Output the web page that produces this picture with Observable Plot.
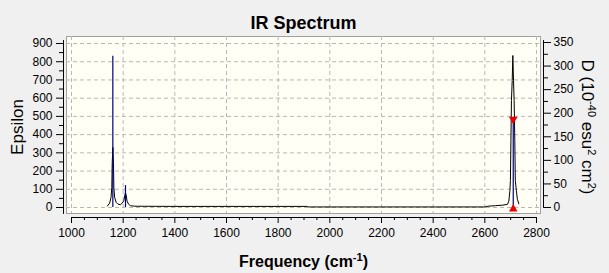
<!DOCTYPE html>
<html>
<head>
<meta charset="utf-8">
<script src="https://cdn.jsdelivr.net/npm/d3@7"></script>
<script src="https://cdn.jsdelivr.net/npm/@observablehq/plot@0.6"></script>
<style>
  html, body { margin: 0; padding: 0; background: #f0f0f0; }
  #chart { width: 609px; height: 273px; }
</style>
</head>
<body>
<div id="chart"></div>
<script>
// ---- data ----
const title = "IR Spectrum";
const xLabel = ["Frequency (cm", "-1", ")"];
const yLabel = "Epsilon";
const y2Label = ["D (10", "-40", " esu", "2", " cm", "2", ")"];

const xMajor = [1000, 1200, 1400, 1600, 1800, 2000, 2200, 2400, 2600, 2800];
const xMinor = d3.range(1050, 2800, 50).filter(v => v % 200 !== 0);
const epsTicks = [0, 100, 200, 300, 400, 500, 600, 700, 800, 900];
const epsMinor = [50, 150, 250, 350, 450, 550, 650, 750, 850];
const dTicks = [0, 50, 100, 150, 200, 250, 300, 350];
const dMinor = [25, 75, 125, 175, 225, 275, 325];
const D_TO_EPS = 2.587; // right axis (D) to left axis (Epsilon)

// broadened spectrum [frequency, epsilon]
const spectrum = [
  [1139, 8], [1148, 25], [1153, 55], [1156, 110], [1157.5, 240], [1160, 330],
  [1162.5, 240], [1164, 110], [1167, 55], [1173, 28], [1180, 18], [1189, 16],
  [1195, 22], [1203, 38], [1206, 66], [1209, 80], [1212, 66], [1215, 35],
  [1221, 18], [1228, 10], [1245, 7], [1400, 6], [1600, 6], [1800, 6], [1912, 6],
  [1916, 3], [2200, 3], [2400, 3], [2600, 3], [2612, 7], [2641, 10], [2670, 13],
  [2688, 18], [2693, 35], [2697, 93], [2699, 148], [2701, 368], [2703, 587],
  [2706, 697], [2708.4, 834], [2711, 697], [2713.5, 587], [2716, 368],
  [2718, 148], [2722, 93], [2726, 45], [2731.6, 20]
];
// stick spectrum [frequency, epsilon-equivalent height]
const sticks = [[1160, 830], [1209, 120], [2710, 470]];
// selected-peak markers
const markerTop = [[2710, 470]];
const markerBottom = [[2710, 0]];

// ---- layout ----
const W = 609, H = 273;
const font = "'Liberation Sans', Arial, sans-serif";

const plot = Plot.plot({
  width: W, height: H,
  marginLeft: 63, marginRight: 66, marginTop: 36, marginBottom: 56,
  style: { background: "#f0f0f0", fontFamily: font, fontSize: "12px", color: "black" },
  x: { domain: [969.03, 2827.1], axis: null },
  y: { domain: [-54.88, 938.4], axis: null },
  marks: [
    Plot.frame({ fill: "#fffff5", stroke: "#a0a0a0", insetLeft: 3, insetRight: 3, insetBottom: 4 }),
    Plot.ruleX(xMajor, { x: d => d, stroke: "#b8b8b8", strokeDasharray: "4,3", insetBottom: 4 }),
    Plot.ruleY(epsTicks, { y: d => d, stroke: "#b8b8b8", strokeDasharray: "4,3", insetLeft: 3, insetRight: 3 }),
    // axes lines
    Plot.ruleY([-54.88], { x1: xMajor[0], x2: xMajor[xMajor.length - 1], stroke: "black" }),
    Plot.ruleX([969.03], { y1: -38, y2: 916, stroke: "black" }),
    Plot.ruleX([2827.1], { y1: -5, y2: 916, stroke: "black" }),
    // x axis
    Plot.axisX({ anchor: "bottom", ticks: xMajor, tickSize: 6, tickPadding: 5, tickFormat: d => String(d), label: null, fontSize: 12 }),
    Plot.axisX({ anchor: "bottom", ticks: xMinor, tickSize: 3, tickFormat: () => "", label: null }),
    // left axis
    Plot.axisY({ anchor: "left", ticks: epsTicks, tickSize: 7, tickPadding: 4, tickFormat: d => String(d), label: null, fontSize: 12 }),
    Plot.axisY({ anchor: "left", ticks: epsMinor, tickSize: 4, tickFormat: () => "", label: null }),
    // right axis (D)
    Plot.axisY({ anchor: "right", ticks: dTicks.map(d => d * D_TO_EPS), tickSize: 7, tickPadding: 3,
      tickFormat: v => String(Math.round(v / D_TO_EPS)), label: null, fontSize: 12 }),
    Plot.axisY({ anchor: "right", ticks: dMinor.map(d => d * D_TO_EPS), tickSize: 4, tickFormat: () => "", label: null }),
    // data
    Plot.line(spectrum, { x: d => d[0], y: d => d[1], stroke: "black", strokeWidth: 1 }),
    Plot.ruleX(sticks, { x: d => d[0], y1: 0, y2: d => d[1], stroke: "#000080", strokeWidth: 1.2 }),
    Plot.dot(markerTop, { x: d => d[0], y: d => d[1], symbol: "triangle", rotate: 180, r: 3.2, fill: "#ee0000", stroke: null, dy: -2.5 }),
    Plot.dot(markerBottom, { x: d => d[0], y: d => d[1], symbol: "triangle", r: 3.2, fill: "#ee0000", stroke: null, dy: 1.5 }),
    // titles
    Plot.text([title], { frameAnchor: "top", dy: -8, lineAnchor: "bottom", fontSize: 18, fontWeight: "bold", fill: "black" }),
    Plot.text([xLabel.join("")], { frameAnchor: "bottom", dy: 49, lineAnchor: "bottom", fontSize: 16, fontWeight: "bold", fill: "black" }),
    Plot.text([yLabel], { frameAnchor: "left", dx: -41, rotate: -90, textAnchor: "middle", lineAnchor: "bottom", fontSize: 17, fill: "black" }),
    Plot.text([y2Label.join("")], { frameAnchor: "right", dx: 38, rotate: 90, textAnchor: "middle", lineAnchor: "bottom", fontSize: 17, fill: "black" })
  ]
});

document.getElementById("chart").appendChild(plot);

// superscripts via tspans (find the label text by its content)
function superscriptPx(parts, supSize, shift) {
  const full = parts.join("");
  const t = Array.from(plot.querySelectorAll("text")).find(e => e.textContent === full);
  if (!t) return;
  while (t.firstChild) t.removeChild(t.firstChild);
  const ns = "http://www.w3.org/2000/svg";
  parts.forEach((p, i) => {
    const s = document.createElementNS(ns, "tspan");
    s.textContent = p;
    if (i % 2 === 1) { s.setAttribute("dy", String(-shift)); s.setAttribute("font-size", supSize); }
    else if (i > 0) { s.setAttribute("dy", String(shift)); }
    t.appendChild(s);
  });
}
superscriptPx(xLabel, 11, 6);
superscriptPx(y2Label, 11, 6);
</script>
</body>
</html>
